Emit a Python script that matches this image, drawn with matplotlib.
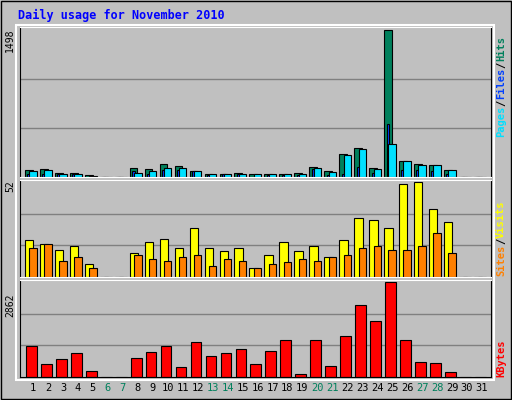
import numpy as np
import matplotlib
matplotlib.use("Agg")
import matplotlib.pyplot as plt

days = list(range(1, 32))
weekend = [6, 7, 13, 14, 20, 21, 27, 28]
# values per day (days 30, 31 empty)
hits = [68, 78, 44, 44, 24, 0, 0, 88, 78, 129, 109, 58, 34, 34, 44, 27, 34, 34, 44, 99, 58,
        231, 292, 88, 1498, 167, 129, 119, 68, 0, 0]
files = [27, 27, 27, 27, 3, 0, 0, 58, 27, 68, 68, 58, 17, 27, 27, 5, 17, 17, 17, 78, 17,
         27, 99, 37, 544, 68, 68, 58, 27, 0, 0]
pages = [58, 68, 34, 34, 14, 0, 0, 37, 58, 88, 88, 58, 27, 34, 34, 27, 27, 34, 34, 88, 48,
         221, 282, 78, 333, 160, 119, 119, 68, 0, 0]
visits = [20, 18, 15, 17, 7, 0, 0, 13, 19, 21, 16, 27, 16, 14, 16, 5, 12, 19, 14, 17, 11,
          20, 32, 31, 27, 51, 52, 37, 30, 0, 0]
sites = [16, 18, 9, 11, 5, 0, 0, 12, 10, 9, 11, 12, 6, 10, 9, 5, 7, 8, 10, 9, 11,
         12, 16, 17, 15, 15, 17, 24, 13, 0, 0]
kbytes = [920, 387, 543, 731, 167, 0, 0, 575, 763, 920, 293, 1045, 637, 731, 857, 387, 794,
          1108, 105, 1108, 324, 1233, 2174, 1672, 2862, 1108, 449, 418, 136, 0, 0]

W, H = 512, 400
fig = plt.figure(figsize=(W / 100, H / 100), dpi=100)
fig.patch.set_facecolor("#C0C0C0")
d = np.array(days)
mono = "DejaVu Sans Mono"

# frame bevel
fig.add_artist(plt.Rectangle((1 / W, 1 / H), 1 - 2 / W, 1 - 2 / H, transform=fig.transFigure,
                             fill=False, ec="black", lw=1))
fig.add_artist(plt.Rectangle((16 / W, 1 - 380 / H), 478 / W, 355 / H, transform=fig.transFigure,
                             fill=False, ec="white", lw=1.5))

fig.text(18 / W, 1 - 15 / H, "Daily usage for November 2010", color="#0000FF",
         family=mono, weight="bold", fontsize=8.5, va="center")


def panel(top, bottom, vmax):
    ax = fig.add_axes([20 / W, 1 - bottom / H, 471 / W, (bottom - top) / H])
    ax.set_facecolor("#C0C0C0")
    ax.set_xlim(0.13, 31.6)
    ax.set_ylim(0, vmax * 1.02)
    for g in (vmax / 3, 2 * vmax / 3):
        ax.axhline(g, color="#808080", lw=1, zorder=0)
    ax.set_xticks([])
    ax.set_yticks([])
    for s in ax.spines.values():
        s.set_color("black")
    ax.spines["top"].set_color("white")
    ax.spines["bottom"].set_color("white")
    return ax


kw = dict(align="edge", edgecolor="black", linewidth=0.8)

ax1 = panel(27, 177, 1498)
ax1.bar(d - 0.54, hits, 0.52, color="#00805C", **kw)
ax1.bar(d - 0.38, files, 0.18, color="#0040FF", **kw)
ax1.bar(d - 0.25, pages, 0.5, color="#00E0FF", **kw)

ax2 = panel(180, 277, 52)
ax2.bar(d - 0.54, visits, 0.56, color="#FFFF00", **kw)
ax2.bar(d - 0.25, sites, 0.5, color="#FF8000", **kw)

ax3 = panel(280, 377, 2862)
ax3.bar(d - 0.47, kbytes, 0.72, color="#FF0000", **kw)
ax3.spines["bottom"].set_color("black")

# max labels on the left
for y, txt in [(40, "1498"), (186, "52"), (305, "2862")]:
    fig.text(10 / W, 1 - y / H, txt, rotation=90, family=mono, fontsize=7,
             ha="center", va="center")


# legends on the right, reading bottom to top
def right_legend(y_bottom, parts):
    x = 501 / W
    yy = 1 - y_bottom / H
    step = 6.3 / H
    for txt, col in parts:
        fig.text(x, yy, txt, rotation=90, color=col, family=mono, fontsize=7.5,
                 ha="center", va="bottom", weight="bold")
        yy += step * len(txt)


right_legend(137, [("Pages", "#00E0FF"), ("/", "black"), ("Files", "#0040FF"),
                   ("/", "black"), ("Hits", "#00805C")])
right_legend(276, [("Sites", "#FF8000"), ("/", "black"), ("Visits", "#FFFF00")])
right_legend(377, [("KBytes", "#FF0000")])

for day in days:
    x = (20 + (day - 0.13) / 31.47 * 471) / W
    fig.text(x, 1 - 388 / H, str(day), ha="center", va="center", family=mono, fontsize=7.5,
             color="#00805C" if day in weekend else "black")

fig.savefig("out.png", dpi=100, facecolor=fig.get_facecolor())
